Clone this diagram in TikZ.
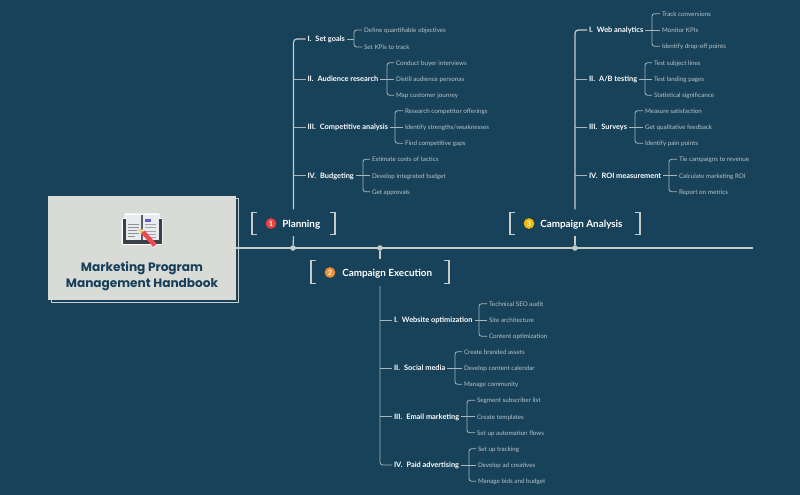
\documentclass[tikz,border=0pt]{standalone}
\usepackage{fontspec}
\setmainfont{Lato}
\newfontfamily\titlefont{Poppins}
\definecolor{bg}{HTML}{17425A}
\definecolor{card}{HTML}{D9DBD7}
\definecolor{linelight}{HTML}{C5CBC8}
\definecolor{linemid}{HTML}{A9B6BA}
\definecolor{leafc}{HTML}{B9C5C9}
\definecolor{navy}{HTML}{173F5A}
\definecolor{bookback}{HTML}{3A4048}
\definecolor{bookpage}{HTML}{E9ECEF}
\definecolor{bookspine}{HTML}{5A6068}
\definecolor{bookmark}{HTML}{6A58D8}
\definecolor{textA}{HTML}{8A9096}
\definecolor{textB}{HTML}{A0A6AC}
\definecolor{pencil}{HTML}{EE4B50}
\definecolor{pencilTip}{HTML}{E8D98A}
\definecolor{badgeRed}{HTML}{EE3F3F}
\definecolor{badgeOrange}{HTML}{F28C2E}
\definecolor{badgeYellow}{HTML}{F2B705}
\tikzset{
  itemnode/.style={anchor=west,inner sep=0pt,outer sep=1.5pt,text=white,font=\fontsize{5.55}{6}\selectfont\bfseries,text height=4pt,text depth=0pt},
  leafnode/.style={anchor=west,inner sep=0pt,outer sep=1.5pt,text=leafc,font=\fontsize{4.7}{6}\selectfont,text height=4pt,text depth=0pt},
  spineline/.style={draw=linelight,line width=1.4pt},
  trunkline/.style={draw=linelight,line width=.9pt,rounded corners=2.5pt},
  twig/.style={draw=linemid,line width=.6pt,rounded corners=2pt},
  topicbox/.style={inner sep=0pt,outer sep=0pt,minimum height=17pt},
  bracketline/.style={draw=linelight,line width=.8pt},
  spinedot/.style={circle,fill=linelight,inner sep=0pt,minimum size=4.2pt},
  badge/.style={circle,inner sep=0pt,minimum size=8pt,text=white,font=\fontsize{5.5}{6}\selectfont\bfseries},
  topictext/.style={anchor=west,inner sep=0pt,text=white,font=\fontsize{7.4}{8}\selectfont\bfseries}
}
% id, label x, y, label, bracket x, leaf x, leaves
\newcommand\branch[9]{%
  \node[itemnode] (#1) at (#2-2,#3) {#4};
  \node[leafnode] (#1a) at (#6-2,#3-16.3) {#7};
  \node[leafnode] (#1b) at (#6-2,#3) {#8};
  \node[leafnode] (#1c) at (#6-2,#3+16.3) {#9};
  \draw[twig] (#1.east) -- (#1b.west);
  \draw[twig] (#1a.west) -- (#5,#3-16.3) -- (#5,#3+16.3) -- (#1c.west);
}
\newcommand\brackets[1]{%
  \draw[bracketline] ([xshift=4pt]#1.north west) -- (#1.north west) -- (#1.south west) -- ([xshift=4pt]#1.south west);
  \draw[bracketline] ([xshift=-4pt]#1.north east) -- (#1.north east) -- (#1.south east) -- ([xshift=-4pt]#1.south east);
}
\begin{document}
\begin{tikzpicture}[x=.75pt,y=-.75pt]
\useasboundingbox[fill=bg] (0,0) rectangle (800,495);

% cover card
\draw[linelight,line width=.7pt] (51,198) rectangle (238,302);
\node[fill=card,inner sep=0pt,outer sep=0pt,minimum width=141pt,minimum height=78pt] (cover) at (142,248) {};
\node[text=navy,align=center,inner sep=0pt,font=\titlefont\fontsize{9.1}{11.7}\selectfont\bfseries] (covertitle) at (142,276.5) {Marketing Program\\Management Handbook};

% book icon
\fill[white,rounded corners=1pt] (121.5,218) rectangle (162.5,245);
\fill[white,rounded corners=.5pt] (124.5,213.5) rectangle (159.5,242);
\fill[white] (141,230) -- (148,228) -- (158,243) -- (154,248) -- cycle;
\fill[bookback] (122.5,219) rectangle (161.5,243.8);
\fill[bookpage] (125.5,215) rectangle (159,240.5);
\fill[bookspine] (141,215) rectangle (143,240.5);
\fill[bookmark] (145,219) rectangle (151,222.5);
\foreach \yy/\xa/\xb in {224.5/128/139,227.5/128/139,230.5/128/137,233.5/128/139,236.5/128/135}
  \draw[textA,line width=.5pt] (\xa,\yy) -- (\xb,\yy);
\foreach \yy/\xa/\xb in {224/145/156,227.5/145/156,231/145/156,234.5/147/156,237.5/150/156}
  \draw[textB,line width=.6pt] (\xa,\yy) -- (\xb,\yy);
\draw[pencil,line width=3.4pt] (143,232) -- (155,245.5);
\fill[pencilTip] (137.5,229) -- (143.5,229.5) -- (141,234) -- cycle;

% spine
\coordinate (spineend) at (753,248);
\draw[spineline] (cover.east) -- (spineend);
\node[spinedot] (dotA) at (293,248) {};
\node[spinedot] (dotB) at (380,248) {};
\node[spinedot] (dotC) at (575,248) {};

% topic boxes
\node[topicbox,minimum width=62.25pt] (plan) at (293.5,223.5) {};
\node[topicbox,minimum width=97.5pt] (anal) at (575,223.5) {};
\node[topicbox,minimum width=103.5pt] (exec) at (380,272) {};
\brackets{plan}\brackets{anal}\brackets{exec}
\draw[spineline,line width=.9pt] (dotA) -- ([yshift=-1pt]plan.south);
\draw[spineline,line width=.9pt] (dotC) -- ([yshift=-1pt]anal.south);
\draw[spineline,line width=.9pt] (dotB) -- ([yshift=1pt]exec.north);
\node[badge,fill=badgeRed] (badgeA) at (271,223.5) {1};
\node[badge,fill=badgeOrange] (badgeB) at (330,272.5) {2};
\node[badge,fill=badgeYellow] (badgeC) at (529,223.5) {3};
\node[topictext] (planlabel) at (282,224.5) {Planning};
\node[topictext] (execlabel) at (342,273.5) {Campaign Execution};
\node[topictext] (anallabel) at (540,224.5) {Campaign Analysis};

% Planning
\node[itemnode] (p1) at (305.5,39) {I.\hspace{3pt}Set goals};
\node[leafnode] (p1a) at (362,30) {Define quantifiable objectives};
\node[leafnode] (p1b) at (362,47) {Set KPIs to track};
\draw[twig] (p1.east) -- (354,39);
\draw[twig] (p1a.west) -- (354,30) -- (354,47) -- (p1b.west);
\branch{p2}{307.5}{79}{II.\hspace{3pt}Audience research}{387}{396}{Conduct buyer interviews}{Distill audience personas}{Map customer journey}
\branch{p3}{307.5}{127}{III.\hspace{3pt}Competitive analysis}{395}{405}{Research competitor offerings}{Identify strengths/weaknesses}{Find competitive gaps}
\branch{p4}{307.5}{175.5}{IV.\hspace{3pt}Budgeting}{363}{372}{Estimate costs of tactics}{Develop integrated budget}{Get approvals}
\draw[trunkline] ([yshift=2pt]plan.north) |- (p1.west);
\foreach \n in {p2,p3,p4} \draw[twig] (plan.north |- \n.west) -- (\n.west);

% Analysis
\branch{a1}{589}{30}{I.\hspace{3pt}Web analytics}{652}{662}{Track conversions}{Monitor KPIs}{Identify drop-off points}
\branch{a2}{589}{79}{II.\hspace{3pt}A/B testing}{645}{654}{Test subject lines}{Test landing pages}{Statistical significance}
\branch{a3}{589}{127}{III.\hspace{3pt}Surveys}{635}{645}{Measure satisfaction}{Get qualitative feedback}{Identify pain points}
\branch{a4}{589}{175.5}{IV.\hspace{3pt}ROI measurement}{669}{679}{Tie campaigns to revenue}{Calculate marketing ROI}{Report on metrics}
\draw[trunkline] ([yshift=2pt]anal.north) |- (a1.west);
\foreach \n in {a2,a3,a4} \draw[twig] (anal.north |- \n.west) -- (\n.west);

% Execution
\branch{e1}{394}{320}{I.\hspace{3pt}Website optimization}{479}{489}{Technical SEO audit}{Site architecture}{Content optimization}
\branch{e2}{394}{368}{II.\hspace{3pt}Social media}{455}{464}{Create branded assets}{Develop content calendar}{Manage community}
\branch{e3}{394}{416.5}{III.\hspace{3pt}Email marketing}{467}{477}{Segment subscriber list}{Create templates}{Set up automation flows}
\branch{e4}{394}{465}{IV.\hspace{3pt}Paid advertising}{469}{478}{Set up tracking}{Develop ad creatives}{Manage bids and budget}
\draw[twig] ([yshift=-2pt]exec.south) |- (e4.west);
\foreach \n in {e1,e2,e3} \draw[twig] (exec.south |- \n.west) -- (\n.west);
\end{tikzpicture}
\end{document}
